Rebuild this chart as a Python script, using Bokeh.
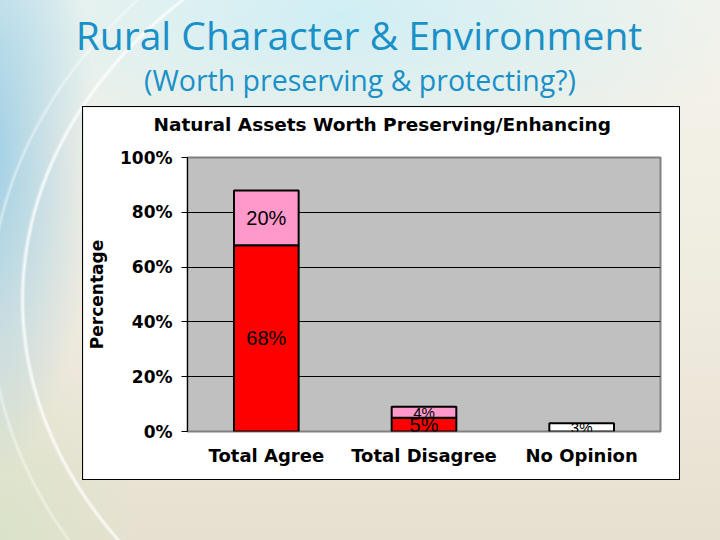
from bokeh.plotting import figure
from bokeh.models import (ColumnDataSource, FactorRange, Range1d, FixedTicker,
                          NumeralTickFormatter, Div, Spacer)
from bokeh.layouts import column, row
from bokeh.embed import file_html
from bokeh.resources import INLINE
from bokeh.core.properties import value

# ---------------- data ----------------
categories = ["Total Agree", "Total Disagree", "No Opinion"]
strong_share = [0.68, 0.05, 0.0]     # red segment
moderate_share = [0.20, 0.04, 0.0]   # pink segment
neutral_share = [0.0, 0.0, 0.03]     # white segment
y_tick_values = [0.0, 0.2, 0.4, 0.6, 0.8, 1.0]
grid_values = [0.2, 0.4, 0.6, 0.8]

slide_title = "Rural Character & Environment"
slide_subtitle = "(Worth preserving & protecting?)"
chart_title = "Natural Assets Worth Preserving/Enhancing"
y_label = "Percentage"

# ---------------- chart ----------------
p = figure(x_range=FactorRange(factors=categories, range_padding=0),
           y_range=Range1d(0, 1),
           width=596, height=372,
           min_border_left=100, min_border_right=19,
           min_border_top=50, min_border_bottom=48,
           output_backend="svg", toolbar_location=None,
           background_fill_color="#c0c0c0", border_fill_color="white",
           outline_line_color="#808080", outline_line_width=2,
           styles={"outline": "1px solid black"})

# trailing newline reserves an empty second line so the title sits higher
p.title.text = chart_title + "\n"
p.title.align = "left"
p.title.vertical_align = "top"
p.title.offset = -34
p.title.standoff = 0
p.title.text_font = "DejaVu Sans"
p.title.text_font_size = "18.5px"
p.title.text_font_style = "bold"
p.title.text_color = "black"

p.xgrid.grid_line_color = None
p.ygrid.ticker = FixedTicker(ticks=grid_values)
p.ygrid.grid_line_color = "black"
p.ygrid.grid_line_width = 1

p.yaxis.ticker = FixedTicker(ticks=y_tick_values)
p.yaxis.formatter = NumeralTickFormatter(format="0%")
p.yaxis.axis_line_color = "black"
p.yaxis.major_tick_line_color = "black"
p.yaxis.major_tick_out = 6
p.yaxis.major_tick_in = 0
p.yaxis.minor_tick_line_color = None
p.yaxis.major_label_text_font = "DejaVu Sans"
p.yaxis.major_label_text_font_size = "17px"
p.yaxis.major_label_text_font_style = "bold"
p.yaxis.major_label_text_color = "black"
p.yaxis.major_label_standoff = 9
p.yaxis.axis_label = y_label
p.yaxis.axis_label_text_font = "DejaVu Sans"
p.yaxis.axis_label_text_font_size = "17px"
p.yaxis.axis_label_text_font_style = "bold"
p.yaxis.axis_label_text_color = "black"
p.yaxis.axis_label_standoff = 10

p.xaxis.axis_line_color = None
p.xaxis.major_tick_line_color = None
p.xaxis.major_tick_out = 0
p.xaxis.minor_tick_line_color = None
p.xaxis.major_label_text_font = "DejaVu Sans"
p.xaxis.major_label_text_font_size = "18px"
p.xaxis.major_label_text_font_style = "bold"
p.xaxis.major_label_text_color = "black"
p.xaxis.major_label_standoff = 13

series = [(strong_share, "#ff0000"), (moderate_share, "#ff99cc"), (neutral_share, "#ffffff")]
base = [0.0] * len(categories)
big_x, big_y, big_t = [], [], []
small_x, small_y, small_t = [], [], []
for vals, color in series:
    xs, bottoms, tops = [], [], []
    for c, b, v in zip(categories, base, vals):
        if v > 0:
            xs.append(c)
            bottoms.append(b)
            tops.append(b + v)
            lab = f"{round(v * 100)}%"
            if v >= 0.05:
                big_x.append(c); big_y.append(b + v / 2); big_t.append(lab)
            else:
                small_x.append(c); small_y.append(b + v / 2); small_t.append(lab)
    src = ColumnDataSource(dict(x=xs, bottom=bottoms, top=tops))
    p.vbar(x="x", bottom="bottom", top="top", width=0.41, source=src,
           fill_color=color, line_color="black", line_width=2)
    base = [b + v for b, v in zip(base, vals)]

p.text(x=big_x, y=big_y, text=big_t, text_align="center", text_baseline="middle",
       text_font=value("Liberation Sans"), text_font_size="20px", text_color="black")
p.text(x=small_x, y=small_y, text=small_t, text_align="center", text_baseline="middle",
       text_font=value("Liberation Sans"), text_font_size="15px", text_color="black")

# ---------------- slide ----------------
header_html = f"""
<div style="position:relative;width:720px;height:107px;font-family:'Open Sans';color:#1a90c8;text-align:center;">
<div style="position:absolute;left:0;width:718px;top:15px;font-size:39px;line-height:39px;white-space:nowrap;">{slide_title.replace('&', '&amp;')}</div>
<div style="position:absolute;left:0;width:720px;top:66px;font-size:28.5px;line-height:28.5px;white-space:nowrap;">{slide_subtitle.replace('&', '&amp;')}</div>
</div>
"""
header = Div(text=header_html, width=720, height=107, margin=0)

bg = ", ".join([
    "radial-gradient(ellipse 545px 425px at 565px 300px, rgba(255,255,255,0) 99.0%, rgba(255,255,255,0.85) 99.5%, rgba(255,255,255,0) 100.1%)",
    "radial-gradient(ellipse 600px 470px at 588px 308px, rgba(255,255,255,0) 99.2%, rgba(255,255,255,0.45) 99.6%, rgba(255,255,255,0) 100.1%)",
    "radial-gradient(ellipse 110px 330px at -15px 150px, rgba(140,200,230,0.85), rgba(170,215,235,0) 100%)",
    "radial-gradient(ellipse 430px 160px at 340px 15px, rgba(205,238,245,0.95), rgba(215,240,245,0) 100%)",
    "radial-gradient(ellipse 160px 200px at -15px 540px, rgba(215,228,200,0.9), rgba(215,228,200,0) 100%)",
    "linear-gradient(to bottom, #f5f4ec 0%, #efebdf 55%, #e7e0d0 100%)",
])
root = column(header, row(Spacer(width=83, height=372, margin=0), p, margin=0),
              width=720, height=540, margin=0, styles={"background": bg})

open("out.html", "w").write(file_html(root, INLINE))
